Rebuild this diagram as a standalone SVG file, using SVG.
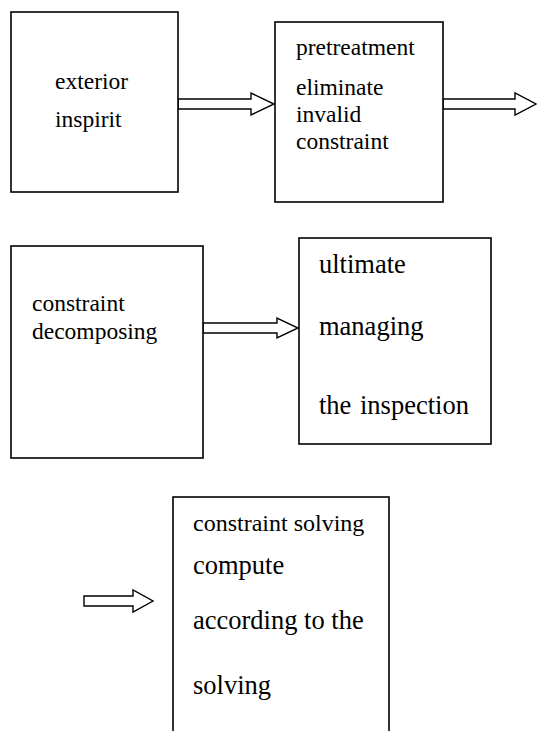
<svg xmlns="http://www.w3.org/2000/svg" width="537" height="731" viewBox="0 0 537 731">
<style>
.box{fill:#fff;stroke:#000;stroke-width:1.6}
.arr{fill:#fff;stroke:#000;stroke-width:1.4;stroke-linejoin:miter}
text{font-family:"Liberation Serif","Times New Roman",serif;fill:#000}
.s{font-size:23.5px}
.m{font-size:24px}
.l{font-size:26.5px}
</style>
<rect width="537" height="731" fill="#fff"/>
<g id="connectors">
<path class="arr" d="M178,99 H251 V93 L274,104 L251,115 V109 H178 Z"/>
<path class="arr" d="M443,99 H515 V93 L536,104 L515,115 V109 H443 Z"/>
<path class="arr" d="M203,323 H277 V318 L298,328 L277,338 V333 H203 Z"/>
<path class="arr" d="M84,596 H133 V590 L153,601 L133,612 V606 H84 Z"/>
</g>
<g id="node-exterior">
<rect class="box" x="11" y="12" width="167" height="180"/>
<text class="s" x="55" y="89">exterior</text>
<text class="s" x="55" y="127">inspirit</text>
</g>
<g id="node-pretreatment">
<rect class="box" x="275" y="22" width="168" height="180"/>
<text class="s" x="296" y="55">pretreatment</text>
<text class="s" x="296" y="95">eliminate</text>
<text class="s" x="296" y="122">invalid</text>
<text class="s" x="296" y="149">constraint</text>
</g>
<g id="node-decomposing">
<rect class="box" x="11" y="246" width="192" height="212"/>
<text class="s" x="32" y="311">constraint</text>
<text class="s" x="32" y="339">decomposing</text>
</g>
<g id="node-managing">
<rect class="box" x="299" y="238" width="192" height="206"/>
<text class="l" x="319" y="273">ultimate</text>
<text class="l" x="319" y="335">managing</text>
<text class="l" x="319" y="414" word-spacing="2">the inspection</text>
</g>
<g id="node-solving">
<rect class="box" x="173" y="497" width="216" height="250"/>
<text class="m" x="193" y="531">constraint solving</text>
<text class="l" x="193" y="574">compute</text>
<text class="l" x="193" y="629">according to the</text>
<text class="l" x="193" y="694">solving</text>
</g>
</svg>
